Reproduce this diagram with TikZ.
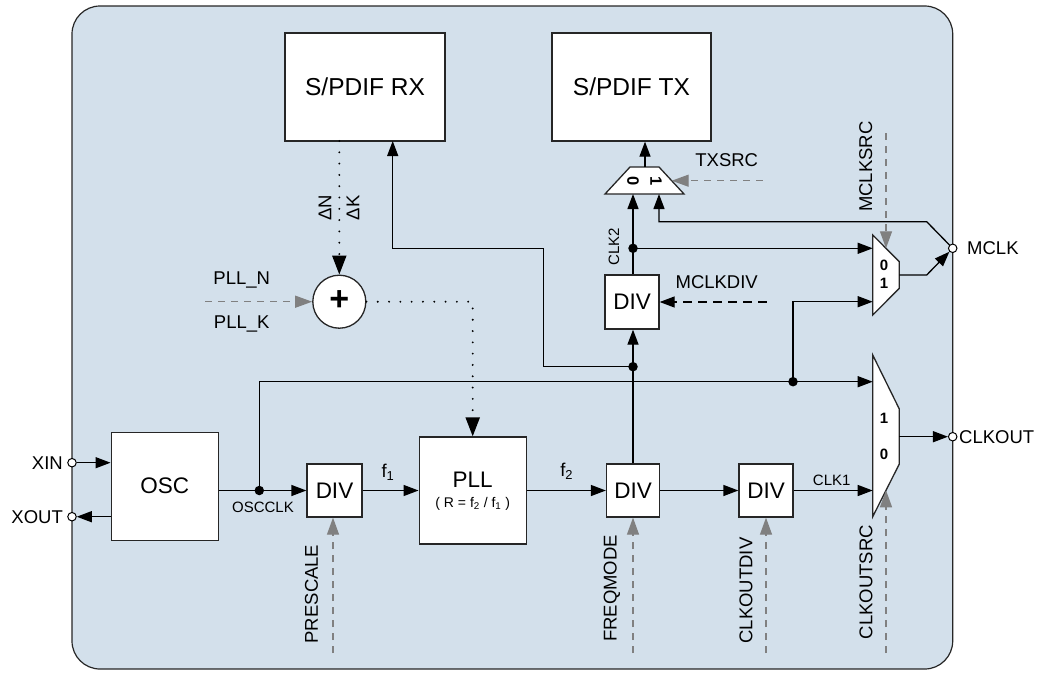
\documentclass[tikz,border=0pt]{standalone}
\usepackage{fontspec}
\setmainfont{Liberation Sans}
\usetikzlibrary{arrows.meta}
\newcommand\fbig{\fontsize{22.5}{26}\selectfont}
\newcommand\fhuge{\fontsize{24.5}{28}\selectfont}
\newcommand\fmid{\fontsize{18.5}{22}\selectfont}
\newcommand\fsml{\fontsize{15}{18}\selectfont}
\newcommand\ftny{\fontsize{14}{16}\selectfont}
\definecolor{bgc}{RGB}{211,224,235}
\definecolor{ctl}{RGB}{128,128,128}
\begin{document}
\begin{tikzpicture}[x=1pt,y=-1pt,
  blk/.style={draw=black!85, fill=white, line width=1.3pt, font=\fbig, inner sep=0pt},
  port/.style={circle, draw=black, fill=white, line width=1pt, minimum size=8.5pt, inner sep=0pt},
  jdot/.style={circle, fill=black, minimum size=9.5pt, inner sep=0pt},
  wire/.style={line width=1.3pt},
  arr/.style={line width=1.3pt, -{Triangle[length=15pt,width=11pt]}},
  garr/.style={draw=ctl, line width=1.3pt, dash pattern=on 7pt off 6pt, -{Triangle[length=17pt,width=12pt,fill=ctl]}},
  darr/.style={line width=1.3pt, dash pattern=on 9pt off 6pt, -{Triangle[length=15pt,width=11pt]}},
  dotarr/.style={line width=2.1pt, line cap=round, dash pattern=on 0pt off 11.3pt, -{Triangle[length=19pt,width=14pt,line cap=butt]}},
  mux/.style={draw=black!85, fill=white, line width=1.3pt},
  lbl/.style={font=\fmid, inner sep=0pt},
  slbl/.style={font=\fsml, inner sep=0pt},
  dig/.style={font=\fsml\bfseries, inner sep=0pt}
]
\useasboundingbox (0,0) rectangle (1048,675);
\draw[fill=bgc, draw=black!85, line width=1.2pt, rounded corners=28pt] (72,6) rectangle (952.7,669);

% blocks
\node[blk, font=\fhuge, minimum width=160pt, minimum height=108pt] (rx) at (365,87) {S/PDIF RX};
\node[blk, font=\fhuge, minimum width=159pt, minimum height=108pt] (tx) at (631.5,87) {S/PDIF TX};
\node[blk, minimum width=107pt, minimum height=108pt] (osc) at (164.7,486.2) {OSC};
\node[blk, minimum width=55pt, minimum height=53pt] (div1) at (334.5,490.5) {DIV};
\node[blk, minimum width=107pt, minimum height=107pt] (pll) at (472.7,490.5) {};
\node[font=\fbig, inner sep=0pt] (plltxt) at (472.7,480) {PLL};
\node[font=\ftny, inner sep=0pt] (pllr) at (472.7,504) {( R = f\textsubscript{2} / f\textsubscript{1} )};
\node[blk, minimum width=53pt, minimum height=53pt] (div2) at (633,490.5) {DIV};
\node[blk, minimum width=54pt, minimum height=53pt] (div3) at (766,490.5) {DIV};
\node[blk, minimum width=54pt, minimum height=54pt] (mdiv) at (632,302) {DIV};
\node[circle, draw=black!85, fill=white, line width=1.3pt, minimum size=53pt, inner sep=0pt] (sum) at (339.3,301.7) {};
\node[font=\fontsize{34}{34}\selectfont\bfseries, inner sep=0pt] (plus) at (339.3,300.5) {+};

% muxes
\draw[mux] (630,167) -- (659,167) -- (684,194) -- (605,194) -- cycle;
\draw[mux] (872.7,235) -- (899.3,261.7) -- (899.3,288.3) -- (872.7,315) -- cycle;
\draw[mux] (872.7,355) -- (899.3,409) -- (899.3,464) -- (872.7,516.7) -- cycle;
\node[dig, font=\fontsize{16.5}{18}\selectfont\bfseries, rotate=-90] (tx0l) at (633,181.5) {0};
\node[dig, font=\fontsize{16.5}{18}\selectfont\bfseries, rotate=-90] (tx1l) at (656,181.5) {1};
\node[dig] (m0l) at (884,265) {0};
\node[dig] (m1l) at (884,283.5) {1};
\node[dig] (c1l) at (884,418.5) {1};
\node[dig] (c0l) at (884,454.5) {0};

% mux pins
\coordinate (txout) at (645,167);
\coordinate (tx0) at (633,194);
\coordinate (tx1) at (659,194);
\coordinate (txsel) at (671.7,180.7);
\coordinate (m0) at (872.7,248.3);
\coordinate (m1) at (872.7,301.7);
\coordinate (mout) at (899.3,275);
\coordinate (msel) at (886,248.3);
\coordinate (c1) at (872.7,381.7);
\coordinate (c0) at (872.7,490.5);
\coordinate (cout) at (899.3,436.7);
\coordinate (csel) at (886,490.3);
\coordinate (rxin) at (392.7,141);
\coordinate (rxout) at (339.3,141);
\coordinate (bendA) at (543.3,248.3);
\coordinate (mbendA) at (926.7,275);
\coordinate (mbendB) at (926.7,221.7);

% ports
\node[port] (xin) at (72,462.7) {};
\node[port] (xout) at (72,516.7) {};
\node[port] (mclk) at (952.7,248.3) {};
\node[port] (clkout) at (952.7,436.7) {};
\node[lbl, anchor=east] (xinl) at (63,462.7) {XIN};
\node[lbl, anchor=east] (xoutl) at (63,516.7) {XOUT};
\node[lbl, anchor=west] (mclkl) at (967,248.3) {MCLK};
\node[lbl, anchor=west] (clkoutl) at (959,436.7) {CLKOUT};

% junctions
\node[jdot] (j1) at (259.3,490.5) {};
\node[jdot] (j2) at (793,381.7) {};
\node[jdot] (j3) at (633,366.7) {};
\node[jdot] (j4) at (633,248.3) {};

% main wires
\draw[arr] (xin) -- (xin -| osc.west);
\draw[arr] (osc.west |- xout) -- (xout);
\draw[arr] (osc.east |- div1) -- (div1.west);
\draw[arr] (j1.center) |- (c1);
\draw[arr] (j2.center) |- (m1);
\draw[arr] (div1.east) -- (pll.west);
\draw[arr] (pll.east) -- (div2.west);
\draw[arr] (div2.east) -- (div3.west);
\draw[arr] (div3.east) -- (c0);
\draw[wire] (div2.north) -- (j3.center);
\draw[arr] (j3.center) -- (mdiv.south -| j3);
\draw[arr] (j3.center) -| (bendA) -| (rxin);
\draw[wire] (mdiv.north -| j4) -- (j4.center);
\draw[arr] (j4.center) -- (tx0);
\draw[arr] (j4.center) -- (m0);
\draw[arr] (mout) -- (mbendA) -- (mclk);
\draw[arr] (mclk) -- (mbendB) -| (tx1);
\draw[arr] (txout) -- (txout |- tx.south);
\draw[arr] (cout) -- (clkout);

% dotted PLL fractional path
\draw[dotarr] (rxout) -- (sum.north);
\draw[dotarr] (sum.east) -| (pll.north);
\node[lbl, rotate=90] (dn) at (325,208) {ΔN};
\node[lbl, rotate=90] (dk) at (353,208) {ΔK};

% control inputs
\coordinate (pllnsrc) at (205,301.7);
\draw[garr] (pllnsrc) -- (sum.west);
\node[lbl] (plln) at (241.7,279.5) {PLL\_N};
\node[lbl] (pllk) at (241.7,323.5) {PLL\_K};

\coordinate (txsrcs) at (762.7,180.7);
\draw[garr] (txsrcs) -- (txsel);
\node[lbl] (txsrcl) at (726.7,160) {TXSRC};

\coordinate (mdivs) at (766.7,302);
\draw[darr] (mdivs) -- (mdiv.east);
\node[lbl] (mdivl) at (716.7,282.5) {MCLKDIV};

\coordinate (mselsrc) at (886,133);
\draw[garr] (mselsrc) -- (msel);
\node[lbl, rotate=90] (mselsl) at (865.7,166.6) {MCLKSRC};

\coordinate (cselsrc) at (886,653);
\draw[garr] (cselsrc) -- (csel);
\node[lbl, rotate=90] (cselsl) at (866,582) {CLKOUTSRC};

\coordinate (pres) at (333,653);
\draw[garr] (pres) -- (pres |- div1.south);
\node[lbl, rotate=90] (presl) at (311.4,594) {PRESCALE};

\coordinate (freq) at (633,653);
\draw[garr] (freq) -- (div2.south);
\node[lbl, rotate=90] (freql) at (612,588.5) {FREQMODE};

\coordinate (cdiv) at (766,653);
\draw[garr] (cdiv) -- (div3.south);
\node[lbl, rotate=90] (cdivl) at (746,590.5) {CLKOUTDIV};

% signal labels
\node[slbl] (oscclk) at (263,507.5) {OSCCLK};
\node[lbl] (f1) at (388,472) {f\textsubscript{1}};
\node[lbl] (f2) at (566.7,471) {f\textsubscript{2}};
\node[slbl] (clk1) at (831.7,480) {CLK1};
\node[slbl, rotate=90] (clk2) at (614,247) {CLK2};
\end{tikzpicture}
\end{document}
